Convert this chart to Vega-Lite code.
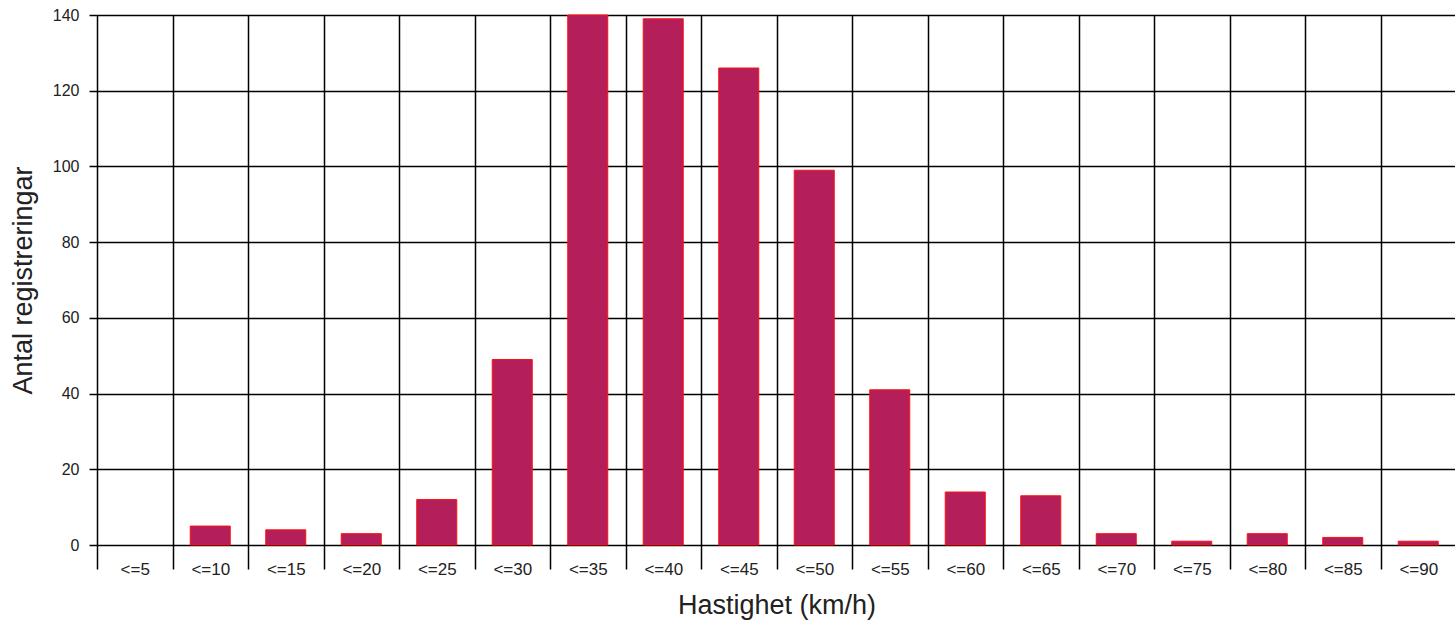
{
  "$schema": "https://vega.github.io/schema/vega-lite/v6.json",
  "autosize": "none",
  "padding": {"left": 97, "top": 15, "right": 0, "bottom": 75},
  "width": 1359,
  "height": 530,
  "background": "white",
  "data": {
    "values": [
      {"kategori": "<=5", "antal": 0},
      {"kategori": "<=10", "antal": 5},
      {"kategori": "<=15", "antal": 4},
      {"kategori": "<=20", "antal": 3},
      {"kategori": "<=25", "antal": 12},
      {"kategori": "<=30", "antal": 49},
      {"kategori": "<=35", "antal": 140},
      {"kategori": "<=40", "antal": 139},
      {"kategori": "<=45", "antal": 126},
      {"kategori": "<=50", "antal": 99},
      {"kategori": "<=55", "antal": 41},
      {"kategori": "<=60", "antal": 14},
      {"kategori": "<=65", "antal": 13},
      {"kategori": "<=70", "antal": 3},
      {"kategori": "<=75", "antal": 1},
      {"kategori": "<=80", "antal": 3},
      {"kategori": "<=85", "antal": 2},
      {"kategori": "<=90", "antal": 1}
    ]
  },
  "mark": {"type": "bar", "width": {"band": 0.53}, "fill": "#B41F5A", "strokeWidth": 1},
  "encoding": {
    "stroke": {"condition": {"test": "datum.antal == 0", "value": null}, "value": "#FF1010"},
    "x": {
      "field": "kategori",
      "type": "nominal",
      "sort": null,
      "scale": {"paddingInner": 0, "paddingOuter": 0},
      "axis": {
        "title": "Hastighet (km/h)",
        "titleFont": "Liberation Sans",
        "titleFontSize": 27,
        "titleFontWeight": "normal",
        "titleColor": "#222",
        "titleY": 60,
        "titleBaseline": "middle",
        "labelAngle": 0,
        "labelFont": "Liberation Sans",
        "labelFontSize": 17,
        "labelColor": "#222",
        "labelBaseline": "middle",
        "labelPadding": 0,
        "tickBand": "extent",
        "tickSize": 24,
        "tickColor": "#000",
        "tickWidth": 1.5,
        "grid": true,
        "gridColor": "#000",
        "gridWidth": 1.5,
        "gridOpacity": 1,
        "domain": false
      }
    },
    "y": {
      "field": "antal",
      "type": "quantitative",
      "scale": {"domain": [0, 140], "nice": false},
      "axis": {
        "title": "Antal registreringar",
        "titleFont": "Liberation Sans",
        "titleFontSize": 27,
        "titleFontWeight": "normal",
        "titleColor": "#222",
        "titleX": -74,
        "titleBaseline": "middle",
        "values": [0, 20, 40, 60, 80, 100, 120, 140],
        "labelFont": "Liberation Sans",
        "labelFontSize": 16,
        "labelColor": "#222",
        "labelPadding": 10,
        "tickSize": 8,
        "tickColor": "#000",
        "tickWidth": 1.5,
        "grid": true,
        "gridColor": "#000",
        "gridWidth": 1.5,
        "gridOpacity": 1,
        "domain": false
      }
    }
  },
  "config": {"view": {"stroke": null}}
}
